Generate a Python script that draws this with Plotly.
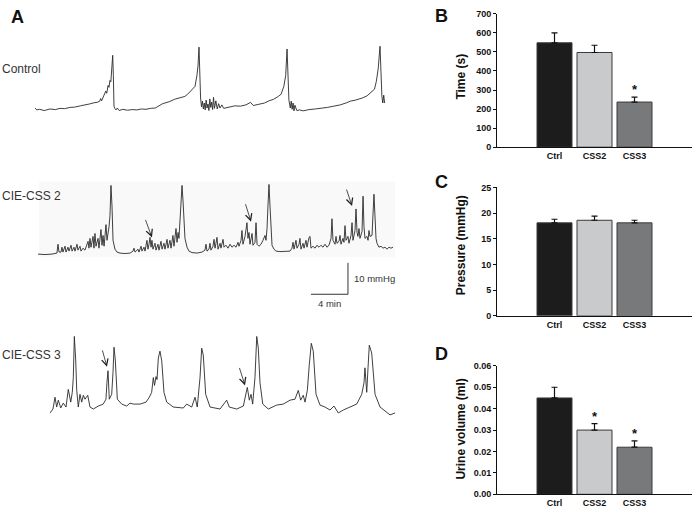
import plotly.graph_objects as go

W, H = 693, 515
FONT = "Arial, Liberation Sans, Helvetica, sans-serif"

# ---------------- Panel A: pressure traces (time in min, pressure in mmHg above baseline) -------------
ctrl_t = [0, 0.2, 0.5, 1.0, 1.6, 2.2, 2.7, 3.2, 3.8, 4.3, 4.9, 5.4, 5.9, 6.4, 6.7, 7.0, 7.1, 7.2, 7.35, 7.5,
          7.65, 7.75, 7.9, 8.0, 8.1, 8.2, 8.3, 8.4, 8.47, 8.54, 8.65, 8.76, 8.9, 9.1, 9.5, 10.0, 10.5, 11.0,
          11.5, 12.0, 12.5, 13.0, 13.8, 14.5, 15.1, 15.7, 16.2, 16.5, 16.76, 17.0, 17.3, 17.5, 17.62, 17.73,
          17.8, 17.9, 18.0, 18.1, 18.2, 18.3, 18.4, 18.5, 18.6, 18.7, 18.8, 18.9, 19.0, 19.1, 19.2, 19.3,
          19.4, 19.55, 19.7, 19.85, 20.0, 20.2, 20.4, 21.0, 21.6, 22.2, 22.8, 23.3, 23.6, 24.2, 24.8, 25.3,
          25.8, 26.3, 26.6, 26.9, 27.1, 27.25, 27.35, 27.45, 27.6, 27.7, 27.8, 27.9, 28.0, 28.1, 28.3, 28.6,
          29.0, 29.6, 30.3, 31.0, 31.6, 32.3, 33.0, 33.7, 34.1, 34.6, 35.4, 35.9, 36.4, 36.7, 36.9, 37.1,
          37.3, 37.4, 37.5, 37.6, 37.7, 37.8]
ctrl_p = [0.6, 0.0, 0.2, -0.2, 0.3, 0.1, 0.5, 0.4, 0.8, 0.9, 1.3, 1.5, 1.9, 2.3, 2.4, 2.8, 3.6, 2.9, 4.0, 5.0,
          6.0, 5.3, 7.8, 7.2, 9.4, 9.0, 13.0, 17.4, 11.0, 1.2, 0.4, 0.0, 0.6, -0.2, 0.2, -0.1, 0.1, 0.0,
          0.3, 0.2, 0.5, 0.6, 2.0, 2.6, 3.4, 3.8, 4.3, 5.0, 5.9, 6.5, 7.5, 10.9, 14.0, 20.0,
          12.0, 3.8, 1.0, 2.8, 0.3, 2.2, 0.0, 3.1, 0.6, 1.9, -0.2, 3.5, 0.8, 2.5, 0.1, 4.0,
          0.5, 2.9, 0.3, 2.0, 0.6, 1.6, 0.5, 1.0, 1.3, 1.2, 1.6, 2.4, 1.4, 1.8, 2.2, 2.9,
          3.4, 4.3, 5.0, 7.5, 10.9, 19.4, 12.0, 3.1, 0.6, 2.8, 0.2, 2.2, -0.3, 1.5, -0.2, 0.0,
          -0.3, 0.1, 0.3, 0.5, 0.8, 1.2, 1.6, 2.3, 2.8, 3.1, 3.8, 4.5, 5.9, 6.6, 9.1, 13.1,
          20.3, 7.8, 4.4, 2.2, 4.7, 2.2]

css2_t = [0, 0.76, 1.51, 2.05, 2.16, 2.27, 2.49, 2.59, 2.70, 2.92, 3.03, 3.24, 3.35, 3.57, 3.68, 3.89, 4.00,
          4.22, 4.32, 4.54, 4.65, 4.86, 5.08, 5.41, 5.51, 5.62, 5.73, 5.95, 6.05, 6.16, 6.27, 6.49, 6.59,
          6.81, 6.92, 7.03, 7.14, 7.35, 7.46, 7.57, 7.68, 7.78, 7.89, 8.00, 8.11, 8.32, 8.54, 8.86, 9.41,
          9.95, 10.27, 10.38, 10.49, 10.81, 10.92, 11.14, 11.24, 11.46, 11.57, 11.78, 11.89, 12.00, 12.11,
          12.22, 12.32, 12.43, 12.65, 12.76, 12.97, 13.08, 13.30, 13.41, 13.62, 13.73, 13.95, 14.05, 14.27,
          14.38, 14.59, 14.70, 14.92, 15.03, 15.14, 15.24, 15.35, 15.46, 15.57, 15.68, 15.89, 16.11, 16.32,
          16.65, 17.19, 17.73, 18.05, 18.16, 18.27, 18.49, 18.59, 18.70, 18.92, 19.03, 19.14, 19.24, 19.35,
          19.46, 19.68, 19.78, 20.00, 20.11, 20.32, 20.54, 20.76, 20.97, 21.19, 21.41, 21.62, 21.73, 21.95,
          22.05, 22.16, 22.38, 22.59, 22.70, 22.81, 22.92, 23.14, 23.24, 23.46, 23.57, 23.68, 23.89, 24.11,
          24.32, 24.54, 24.65, 24.76, 24.86, 24.97, 25.08, 25.30, 25.51, 25.73, 26.16, 26.70, 27.24, 27.46,
          27.57, 27.68, 27.89, 28.00, 28.22, 28.32, 28.43, 28.65, 28.76, 28.97, 29.08, 29.30, 29.41, 29.51,
          29.73, 29.95, 30.16, 30.38, 30.59, 30.81, 31.03, 31.24, 31.46, 31.68, 31.78, 31.89, 32.11, 32.22,
          32.32, 32.54, 32.65, 32.76, 32.97, 33.08, 33.19, 33.30, 33.51, 33.62, 33.84, 33.95, 34.05, 34.27,
          34.38, 34.49, 34.59, 34.70, 34.81, 35.03, 35.14, 35.24, 35.35, 35.57, 35.68, 35.78, 35.89, 36.11,
          36.22, 36.32, 36.43, 36.54, 36.65, 36.86, 37.08, 37.30, 37.51, 37.73, 37.95, 38.16, 38.38]
css2_p = [0, -0.16, 0, 0.31, 3.13, 0.63, 0.63, 2.19, 0.63, 2.5, 0.63, 2.19, 0.94, 2.81, 0.94, 2.19, 0.94,
          3.13, 1.25, 2.5, 0.94, 1.88, 1.25, 4.06, 1.88, 5.0, 2.19, 5.63, 1.88, 6.56, 2.5, 5.0, 1.88,
          7.81, 2.81, 5.94, 2.5, 9.38, 4.38, 6.25, 8.75, 12.19, 21.88, 15.31, 4.38, 1.56, 0.63, 0.31, 0.16,
          0.31, 0.94, 1.88, 0.63, 1.56, 0.63, 2.5, 0.94, 2.19, 0.94, 4.38, 1.56, 3.13, 5.31,
          2.19, 4.38, 1.56, 3.44, 1.25, 3.13, 1.25, 4.06, 1.56, 3.44, 1.56, 4.69, 1.88, 4.38,
          1.88, 5.94, 2.5, 8.13, 3.75, 6.88, 5.0, 10.0, 15.31, 21.88, 16.88, 5.0, 2.19, 0.94,
          0.47, 0.31, 0.63, 1.25, 3.13, 0.94, 1.56, 3.44, 1.25, 2.5, 4.69, 1.88, 3.44, 5.31,
          1.56, 3.44, 1.88, 4.69, 2.19, 2.81, 1.88, 3.13, 2.19, 2.81, 2.19, 3.75, 2.5, 4.38,
          7.5, 3.13, 5.63, 10.0, 5.0, 6.88, 3.13, 6.56, 2.81, 3.75, 10.0, 3.13, 2.5, 3.13,
          4.38, 5.94, 4.38, 8.13, 15.31, 22.19, 15.31, 2.81, 1.56, 0.94, 0.78, 0.94, 0.94, 1.88,
          3.75, 1.56, 4.38, 1.88, 3.13, 5.0, 1.56, 3.44, 1.88, 4.38, 2.19, 5.31, 5.63, 1.88,
          2.5, 1.88, 2.81, 2.19, 2.81, 2.19, 3.13, 2.19, 2.81, 5.0, 11.25, 4.38, 3.13, 5.63,
          3.44, 4.06, 5.94, 3.13, 5.0, 3.75, 9.06, 4.38, 5.63, 3.44, 5.94, 10.0, 4.38, 7.5,
          14.38, 6.88, 5.63, 8.13, 5.0, 7.19, 18.44, 8.75, 5.0, 5.63, 4.38, 7.5, 5.63, 5.94,
          13.75, 19.06, 12.19, 5.0, 3.44, 2.19, 2.5, 1.88, 2.19, 1.56, 2.19, 1.88, 2.19]

css3_t = [0, 0.32, 0.54, 0.72, 0.90, 1.16, 1.44, 1.73, 1.98, 2.24, 2.41, 2.52, 2.63, 2.78, 2.89, 3.06, 3.24,
          3.43, 3.60, 3.78, 4.08, 4.32, 4.68, 5.22, 5.76, 6.05, 6.16, 6.27, 6.41, 6.67, 6.81, 6.92, 7.06,
          7.28, 7.75, 8.29, 8.65, 9.01, 9.73, 10.38, 10.74, 10.99, 11.17, 11.30, 11.46, 11.57, 11.71, 11.89,
          12.08, 12.32, 12.62, 13.33, 14.41, 14.78, 15.32, 15.68, 15.92, 16.22, 16.40, 16.57, 16.83, 17.30,
          18.38, 19.10, 19.38, 20.18, 20.90, 21.33, 21.55, 21.73, 21.91, 22.16, 22.35, 22.52, 22.70, 23.00,
          23.60, 24.51, 25.22, 25.95, 26.49, 26.84, 27.10, 27.38, 27.57, 27.82, 28.03, 28.25, 28.46, 28.76,
          29.19, 29.73, 30.27, 30.70, 31.17, 31.71, 32.43, 33.16, 33.70, 33.95, 34.05, 34.24, 34.38, 34.52,
          34.78, 35.14, 35.68, 36.40, 36.76, 37.30]
css3_p = [-1.88, -0.63, 3.13, 0, 2.19, -0.31, 1.25, 0, 5.63, 1.56, 4.69, 9.38, 22.5, 15.0, 5.31, 0, 4.06,
          1.56, 3.75, 2.5, 3.75, 0, -0.63, 0.31, 0.94, 2.5, 7.81, 11.56, 2.5, 4.06, 10.94, 19.06, 15.0,
          2.5, 0.94, 0.31, 1.25, 0.94, 0.94, 1.56, 3.13, 4.69, 9.38, 6.88, 9.69, 8.75, 15.63, 17.81,
          14.69, 4.69, 1.56, 0, -0.31, 0.94, 0, 3.13, 0, 9.38, 18.75, 16.56, 4.06, 0,
          -0.63, 2.19, 0, -0.63, 0.31, 6.25, 2.19, 4.06, 0.94, 9.38, 22.5, 18.75, 7.81, 0.94,
          -0.63, 0.63, 0.94, 2.19, 2.5, 5.31, 2.19, 3.75, 1.56, 5.31, 13.44, 20.31, 17.81, 4.06,
          0.63, 0, -0.94, 0.31, -1.88, -0.94, 0, 0.94, 4.06, 7.81, 12.5, 4.69, 12.5, 19.69,
          17.19, 4.06, 0, -1.56, -2.5, -1.88]

assert len(ctrl_t) == len(ctrl_p) and len(css2_t) == len(css2_p) and len(css3_t) == len(css3_p)

trace_labels = ["Control", "CIE-CSS 2", "CIE-CSS 3"]
css2_arrow_t = [12.32, 23.03, 33.95]
css2_arrow_p = [5.31, 10.31, 15.31]
css3_arrow_t = [6.16, 21.08]
css3_arrow_p = [12.81, 6.88]
scale_min = 4
scale_mmHg = 10
scale_label_min = "4 min"
scale_label_mmHg = "10 mmHg"

# ---------------- Panels B-D: group means and SEM -------------
groups = ["Ctrl", "CSS2", "CSS3"]
time_mean = [548, 497, 237]
time_sem = [52, 38, 26]
pressure_mean = [18.1, 18.6, 18.1]
pressure_sem = [0.7, 0.8, 0.5]
urine_mean = [0.045, 0.030, 0.022]
urine_sem = [0.005, 0.003, 0.003]
time_sig = [False, False, True]
pressure_sig = [False, False, False]
urine_sig = [False, True, True]
bar_colors = ["#1c1c1c", "#c9cacc", "#78797b"]

# ---------------- layout helpers -------------
PX_PER_MIN = 37 / 4.0
PX_PER_MMHG = 32 / 10.0


def dom_x(a, b):
    return [a / W, b / W]


def dom_y(top, bot):
    return [1 - bot / H, 1 - top / H]


fig = go.Figure()

# trace axes: (x0 px, x1 px, top px, bottom px, baseline px)
trace_boxes = [(35, 405, 30, 118, 107), (38, 405, 175, 310, 254), (50, 405, 325, 425, 410)]
trace_data = [(ctrl_t, ctrl_p), (css2_t, css2_p), (css3_t, css3_p)]
label_y_px = [65, 195, 357]

for i, ((x0, x1, top, bot, base), (tt, pp)) in enumerate(zip(trace_boxes, trace_data)):
    n = "" if i == 0 else str(i + 1)
    fig.add_trace(go.Scatter(x=tt, y=pp, mode="lines", line=dict(color="#2a2a2a", width=0.9),
                             xaxis="x" + n, yaxis="y" + n, showlegend=False, hoverinfo="skip"))
    fig.layout["xaxis" + n] = dict(domain=dom_x(x0, x1), range=[0, (x1 - x0) / PX_PER_MIN],
                                   visible=False, anchor="y" + n)
    fig.layout["yaxis" + n] = dict(domain=dom_y(top, bot),
                                   range=[(base - bot) / PX_PER_MMHG, (base - top) / PX_PER_MMHG],
                                   visible=False, anchor="x" + n)

# bar axes
bar_boxes = [(497, 692, 9, 145), (497, 692, 186, 317), (497, 692, 368, 499)]
bar_sets = [(time_mean, time_sem, time_sig, [0, 700], 100, None, "Time (s)", 73),
            (pressure_mean, pressure_sem, pressure_sig, [0, 25], 5, None, "Pressure (mmHg)", 245),
            (urine_mean, urine_sem, urine_sig, [0, 0.06], 0.01, ".2f", "Urine volume (ml)", 433)]
letters = [("A", 17, 12), ("B", 441, 11), ("C", 441, 180), ("D", 441, 356)]

annotations = []
shapes = []
xs = list(range(len(groups)))
for k, ((x0, x1, top, bot), (m, s, sig, yr, dt, fmt, title, ty)) in enumerate(zip(bar_boxes, bar_sets)):
    n = str(k + 4)
    fig.add_trace(go.Bar(x=xs, y=m, width=0.875, marker=dict(color=bar_colors, line=dict(color="#3a3a3a", width=1)),
                         error_y=dict(type="data", array=s, arrayminus=[0] * len(s), symmetric=False,
                                      color="#111", thickness=1.2, width=3),
                         xaxis="x" + n, yaxis="y" + n, showlegend=False, hoverinfo="skip"))
    half = (x1 - x0) / 2 / 40.0
    fig.layout["xaxis" + n] = dict(domain=dom_x(x0, x1), range=[1 - half, 1 + half], anchor="y" + n,
                                   tickvals=xs, ticktext=groups, showline=True, linecolor="#111", linewidth=1,
                                   ticks="", showgrid=False, zeroline=False,
                                   tickfont=dict(family=FONT, size=9, color="#111", weight="bold"))
    yd = dict(domain=dom_y(top, bot), range=yr, dtick=dt, anchor="x" + n, showline=True, linecolor="#111",
              linewidth=1, ticks="outside", ticklen=3, tickwidth=1, tickcolor="#111", showgrid=False,
              zeroline=False, tickfont=dict(family=FONT, size=9, color="#111", weight="bold"))
    if fmt:
        yd["tickformat"] = fmt
    fig.layout["yaxis" + n] = yd
    for j in xs:
        if sig[j]:
            annotations.append(dict(x=j, y=m[j] + s[j], xref="x" + n, yref="y" + n, text="*",
                                    showarrow=False, xanchor="center", yanchor="bottom", yshift=-2,
                                    font=dict(family=FONT, size=13, color="#111", weight="bold")))
    annotations.append(dict(x=461 / W, y=1 - ty / H, xref="paper", yref="paper", text=title, textangle=-90,
                            showarrow=False, xanchor="center", yanchor="middle",
                            font=dict(family=FONT, size=12, color="#111", weight="bold")))

for (txt, px, py) in letters:
    annotations.append(dict(x=px / W, y=1 - py / H, xref="paper", yref="paper", text=txt, showarrow=False,
                            xanchor="center", yanchor="middle",
                            font=dict(family=FONT, size=18, color="#111", weight="bold")))

for txt, py in zip(trace_labels, label_y_px):
    annotations.append(dict(x=0, y=1 - py / H, xref="paper", yref="paper", text=txt, showarrow=False,
                            xanchor="left", yanchor="middle", font=dict(family=FONT, size=12, color="#333")))

# arrows
arrow_offsets2 = [(-7, -19), (-6, -19), (-6, -18)]
for t, p, (ax, ay) in zip(css2_arrow_t, css2_arrow_p, arrow_offsets2):
    annotations.append(dict(x=t, y=p, xref="x2", yref="y2", ax=ax, ay=ay, text="", showarrow=True,
                            arrowhead=5, arrowsize=1.6, arrowwidth=0.8, arrowcolor="#222", standoff=0))
arrow_offsets3 = [(-5, -18), (-6, -19)]
for t, p, (ax, ay) in zip(css3_arrow_t, css3_arrow_p, arrow_offsets3):
    annotations.append(dict(x=t, y=p, xref="x3", yref="y3", ax=ax, ay=ay, text="", showarrow=True,
                            arrowhead=5, arrowsize=1.6, arrowwidth=0.8, arrowcolor="#222", standoff=0))

# scale bar (drawn in CSS2 trace coordinates)
sb_t, sb_p = 33.51, -12.81
shapes.append(dict(type="line", xref="x2", yref="y2", x0=sb_t - scale_min, x1=sb_t, y0=sb_p, y1=sb_p,
                   line=dict(color="#333", width=1)))
shapes.append(dict(type="line", xref="x2", yref="y2", x0=sb_t, x1=sb_t, y0=sb_p, y1=sb_p + scale_mmHg,
                   line=dict(color="#333", width=1)))
annotations.append(dict(x=sb_t, y=sb_p + scale_mmHg / 2, xref="x2", yref="y2", text=scale_label_mmHg,
                        showarrow=False, xanchor="left", yanchor="middle", xshift=4,
                        font=dict(family=FONT, size=9.5, color="#333")))
annotations.append(dict(x=sb_t - scale_min / 2, y=sb_p, xref="x2", yref="y2", text=scale_label_min,
                        showarrow=False, xanchor="center", yanchor="top", yshift=-2,
                        font=dict(family=FONT, size=9.5, color="#333")))

# faint recording background behind CSS2 trace
shapes.append(dict(type="rect", xref="paper", yref="paper", x0=39 / W, x1=395 / W, y0=1 - 257 / H,
                   y1=1 - 180 / H, fillcolor="#f9f9f9", line=dict(width=0), layer="below"))

fig.update_layout(width=W, height=H, margin=dict(l=0, r=0, t=0, b=0), paper_bgcolor="white",
                  plot_bgcolor="rgba(0,0,0,0)", annotations=annotations, shapes=shapes, bargap=0,
                  font=dict(family=FONT))
fig.write_html("out.html", config={"displayModeBar": False, "staticPlot": True},
               post_script="document.body.style.margin='0px';document.body.style.overflow='hidden';")
